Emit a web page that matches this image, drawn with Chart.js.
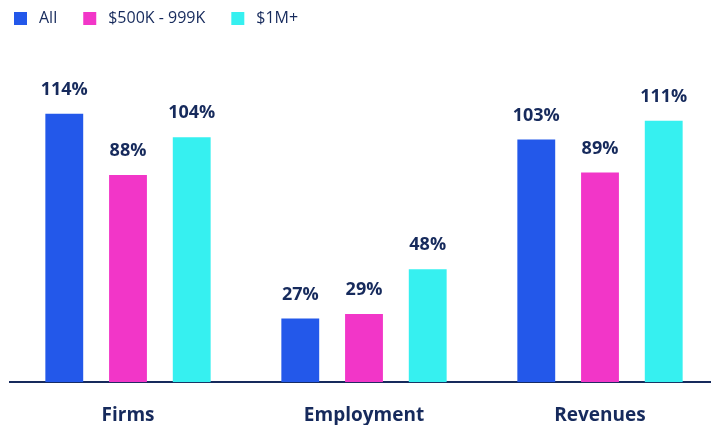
<!DOCTYPE html>
<html>
<head>
<meta charset="utf-8">
<script src="https://cdn.jsdelivr.net/npm/chart.js@4.4.0/dist/chart.umd.min.js"></script>
<style>
  html, body { margin: 0; padding: 0; background: #fff; overflow: hidden; }
  #wrap { width: 718px; height: 449px; position: relative; }
</style>
</head>
<body>
<div id="wrap"><canvas id="chart"></canvas></div>
<script>
var categories = ["Firms", "Employment", "Revenues"];
var seriesNames = ["All", "$500K - 999K", "$1M+"];
var allValues = [114, 27, 103];
var midValues = [88, 29, 89];
var bigValues = [104, 48, 111];
var seriesColors = ["#2358ea", "#f236c8", "#36f0f0"];

var navy = "#162a5c";
var font = "'Open Sans', sans-serif";

// legend marker: 13px square sitting 16px into a 33px wide image
function legendSquare(color) {
    var c = document.createElement("canvas");
    c.width = 33;
    c.height = 13;
    var g = c.getContext("2d");
    g.fillStyle = color;
    g.fillRect(16, 0, 13, 13);
    return c;
}

var valueLabels = {
    id: "valueLabels",
    afterLayout: function(chart) {
        chart.legend.left = -12;
    },
    afterDatasetsDraw: function(chart) {
        var ctx = chart.ctx;
        ctx.save();
        ctx.font = "bold 18px " + font;
        ctx.fillStyle = navy;
        ctx.textAlign = "center";
        ctx.textBaseline = "bottom";
        chart.data.datasets.forEach(function(ds, i) {
            var meta = chart.getDatasetMeta(i);
            meta.data.forEach(function(bar, j) {
                ctx.fillText(ds.data[j] + "%", bar.x, bar.y - 15);
            });
        });
        ctx.restore();
    }
};

new Chart(document.getElementById("chart"), {
    type: "bar",
    data: {
        labels: categories,
        datasets: [
            { label: seriesNames[0], data: allValues, backgroundColor: seriesColors[0], pointStyle: legendSquare(seriesColors[0]) },
            { label: seriesNames[1], data: midValues, backgroundColor: seriesColors[1], pointStyle: legendSquare(seriesColors[1]) },
            { label: seriesNames[2], data: bigValues, backgroundColor: seriesColors[2], pointStyle: legendSquare(seriesColors[2]) }
        ]
    },
    options: {
        responsive: true,
        maintainAspectRatio: false,
        animation: false,
        layout: { padding: { left: 10, right: 0, top: 0, bottom: 0 } },
        datasets: {
            bar: { barPercentage: 0.594, categoryPercentage: 0.81 }
        },
        plugins: {
            legend: {
                position: "top",
                align: "start",
                labels: {
                    usePointStyle: true,
                    pointStyleWidth: 33,
                    boxHeight: 13,
                    padding: 10,
                    color: navy,
                    font: { family: font, size: 16 }
                }
            },
            tooltip: { enabled: false }
        },
        scales: {
            x: {
                grid: { display: false, drawTicks: false },
                border: { color: navy, width: 2 },
                ticks: {
                    color: navy,
                    padding: 22,
                    font: { family: font, size: 19, weight: "bold" }
                }
            },
            y: {
                display: false,
                min: 0,
                max: 147
            }
        }
    },
    plugins: [valueLabels]
});
</script>
</body>
</html>
